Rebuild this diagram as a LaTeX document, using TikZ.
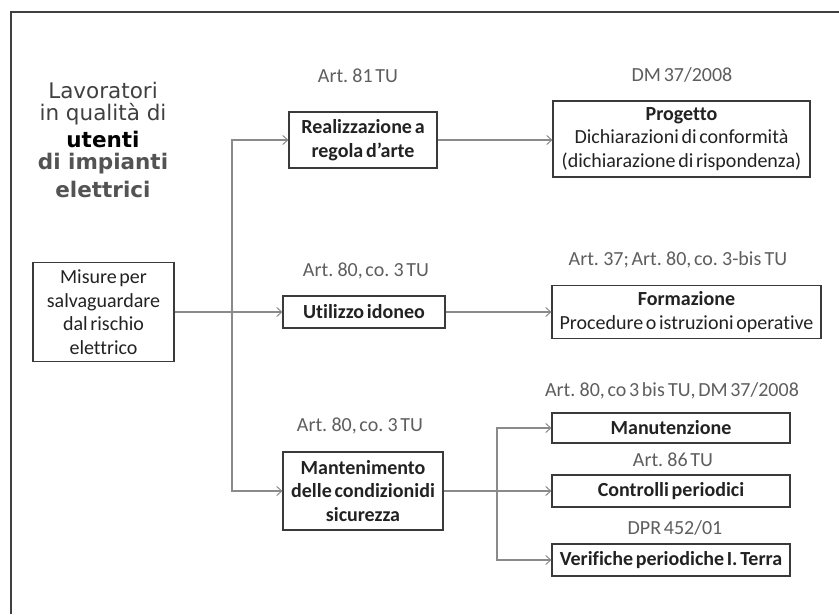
\documentclass[tikz,border=0pt]{standalone}
\usepackage{fontspec}
\setmainfont[Ligatures={NoCommon},WordSpace=0.6]{Carlito}
\newfontfamily\titlefont{DejaVu Sans}
\usetikzlibrary{arrows.meta}
\definecolor{framec}{HTML}{404040}
\definecolor{boxc}{HTML}{3A3A3A}
\definecolor{linec}{HTML}{8A8A8A}
\definecolor{labc}{HTML}{5E5E5E}
\definecolor{titc}{HTML}{404040}
\definecolor{txtc}{HTML}{222222}
\tikzset{
  bx/.style={draw=boxc, line width=1.1pt, fill=white, inner sep=0pt, align=center,
    text=txtc, font=\fontsize{20}{23.5}\selectfont},
  bxb/.style={bx, font=\bfseries\fontsize{20}{23.5}\selectfont},
  lab/.style={text=labc, inner sep=0pt, font=\fontsize{20}{23}\selectfont},
  conn/.style={draw=linec, line width=1.2pt, -{Straight Barb[length=5pt,width=9pt,line width=1pt]}},
  connb/.style={conn, line width=1.8pt},
  tl/.style={inner sep=0pt, font=\titlefont\fontsize{21.5}{25}\selectfont}
}
\begin{document}
\begin{tikzpicture}[x=1pt,y=-1pt]
\useasboundingbox (0,0) rectangle (839,614);
\fill[white] (0,0) rectangle (839,614);
% frame
\draw[framec, line width=1.1pt] (839,12) -- (11,12) -- (11,614);
% title
\node[tl, text=titc] (t1) at (103,90) {Lavoratori};
\node[tl, text=titc] (t2) at (103,114) {in qualità di};
\node[tl, text=black, font=\titlefont\bfseries\fontsize{21.5}{25}\selectfont] (t3) at (103,139) {utenti};
\node[tl, text=titc!90, font=\titlefont\bfseries\fontsize{21.5}{25}\selectfont] (t4) at (103,164) {di impianti};
\node[tl, text=titc!90, font=\titlefont\bfseries\fontsize{21.5}{25}\selectfont] (t5) at (103,189) {elettrici};
% boxes
\node[bx, minimum width=141pt, minimum height=99pt] (misure) at (103.5,312)
  {Misure per\\salvaguardare\\dal rischio\\elettrico};
\node[bxb, minimum width=148pt, minimum height=56pt] (realiz) at (363,140)
  {Realizzazione a\\regola d'arte};
\node[bx, minimum width=257pt, minimum height=76pt] (prog) at (681.5,139)
  {\textbf{Progetto}\\Dichiarazioni di conformità\\(dichiarazione di rispondenza)};
\node[bxb, minimum width=162pt, minimum height=32pt] (util) at (364,312)
  {Utilizzo idoneo};
\node[bx, minimum width=269pt, minimum height=53pt] (form) at (686.5,312)
  {\textbf{Formazione}\\Procedure o istruzioni operative};
\node[bxb, minimum width=160pt, minimum height=78pt] (mant) at (363,491)
  {Mantenimento\\delle condizionidi\\sicurezza};
\node[bxb, minimum width=238pt, minimum height=30pt] (manut) at (671,428)
  {Manutenzione};
\node[bxb, minimum width=238pt, minimum height=32pt] (contr) at (671,491)
  {Controlli periodici};
\node[bxb, minimum width=238pt, minimum height=32pt] (verif) at (671,560)
  {Verifiche periodiche I. Terra};
% labels
\node[lab] (l1) at (358,76) {Art. 81 TU};
\node[lab] (l2) at (682,75) {DM 37/2008};
\node[lab] (l3) at (366,271) {Art. 80, co. 3 TU};
\node[lab] (l4) at (678,260) {Art. 37; Art. 80, co. 3-bis\,TU};
\node[lab] (l5) at (360,426) {Art. 80, co. 3 TU};
\node[lab] (l6) at (672,391) {Art. 80, co 3 bis\,TU, DM 37/2008};
\node[lab] (l7) at (673,460) {Art. 86 TU};
\node[lab] (l8) at (675,528) {DPR 452/01};
% connectors
\coordinate (sp) at (232,312);
\coordinate (br) at (497,491);
\draw[connb] (misure.east) -- (util.west);
\draw[conn] (sp) |- (realiz.west);
\draw[conn] (sp) |- (mant.west);
\draw[conn] (realiz.east) -- (prog.west |- realiz.east);
\draw[conn] (util.east) -- (form.west);
\draw[connb] (mant.east) -- (contr.west);
\draw[conn] (br) |- (manut.west);
\draw[conn] (br) |- (verif.west);
\end{tikzpicture}
\end{document}
